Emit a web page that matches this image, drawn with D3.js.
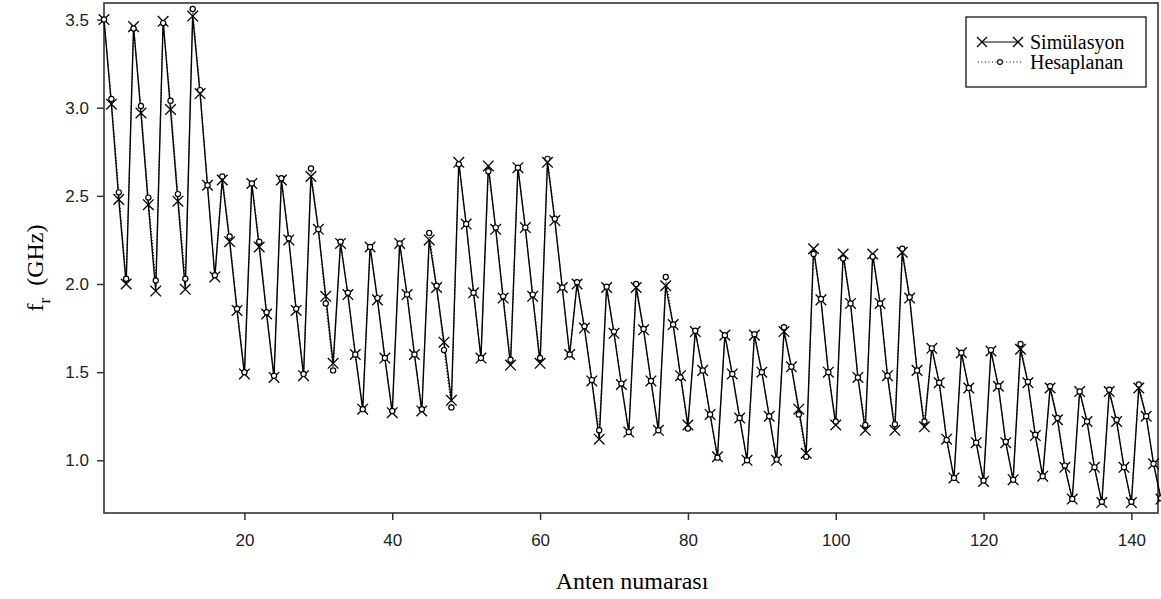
<!DOCTYPE html>
<html>
<head>
<meta charset="utf-8">
<script src="https://cdn.jsdelivr.net/npm/d3@7"></script>
<style>
html,body{margin:0;padding:0;background:#fff;}
svg{display:block;}
</style>
</head>
<body>
<svg id="chart" width="1161" height="599"></svg>
<script>
// ---- data ----
const antennaIndex = d3.range(1, 145);
const simulasyon = [
  3.50,3.02,2.48,2.00, 3.46,2.97,2.45,1.96, 3.49,2.99,2.47,1.97, 3.52,3.08,2.56,2.04,
  2.59,2.24,1.85,1.49, 2.57,2.21,1.83,1.47, 2.59,2.25,1.85,1.48, 2.61,2.31,1.93,1.55,
  2.23,1.94,1.60,1.29, 2.21,1.91,1.58,1.27, 2.23,1.94,1.60,1.28, 2.25,1.98,1.67,1.34,
  2.69,2.34,1.95,1.58, 2.67,2.31,1.92,1.54, 2.66,2.32,1.93,1.55, 2.69,2.36,1.98,1.60,
  2.00,1.75,1.45,1.12, 1.98,1.72,1.43,1.16, 1.98,1.74,1.45,1.17, 1.99,1.77,1.48,1.20,
  1.73,1.51,1.26,1.02, 1.71,1.49,1.24,1.00, 1.71,1.50,1.25,1.00, 1.73,1.53,1.29,1.04,
  2.20,1.91,1.50,1.20, 2.17,1.89,1.47,1.17, 2.17,1.89,1.48,1.17, 2.18,1.92,1.51,1.19,
  1.635,1.44,1.12,0.90, 1.61,1.41,1.10,0.88, 1.62,1.42,1.10,0.89, 1.63,1.44,1.14,0.91,
  1.41,1.23,0.96,0.78, 1.39,1.22,0.96,0.76, 1.39,1.22,0.96,0.76, 1.41,1.25,0.98,0.78
];
const hesaplanan = [
  3.50,3.05,2.52,2.03, 3.45,3.01,2.49,2.02, 3.48,3.04,2.51,2.03, 3.56,3.10,2.56,2.05,
  2.61,2.27,1.86,1.50, 2.57,2.24,1.84,1.48, 2.60,2.26,1.86,1.49, 2.655,2.31,1.89,1.51,
  2.24,1.95,1.60,1.29, 2.21,1.92,1.58,1.28, 2.23,1.94,1.60,1.29, 2.29,1.99,1.625,1.30,
  2.68,2.34,1.95,1.58, 2.64,2.32,1.93,1.57, 2.66,2.32,1.94,1.58, 2.71,2.37,1.98,1.60,
  2.01,1.76,1.455,1.17, 1.985,1.73,1.435,1.16, 2.00,1.745,1.45,1.17, 2.04,1.77,1.47,1.18,
  1.735,1.51,1.26,1.015, 1.71,1.49,1.24,1.00, 1.715,1.50,1.25,1.005, 1.755,1.53,1.26,1.02,
  2.17,1.915,1.50,1.22, 2.145,1.89,1.47,1.20, 2.155,1.89,1.48,1.205, 2.20,1.925,1.51,1.22,
  1.635,1.44,1.115,0.90, 1.61,1.41,1.10,0.885, 1.625,1.42,1.105,0.89, 1.66,1.445,1.145,0.91,
  1.42,1.24,0.97,0.78, 1.39,1.22,0.96,0.765, 1.40,1.23,0.96,0.765, 1.43,1.25,0.98,0.785
];
const xTicks = [20, 40, 60, 80, 100, 120, 140];
const yTicks = [1.0, 1.5, 2.0, 2.5, 3.0, 3.5];
const seriesNames = ["Simülasyon", "Hesaplanan"];
const xTitle = "Anten numarası";

// ---- layout ----
const L = 104, R = 1158, T = 3, B = 513;
const svg = d3.select("#chart");
const x = d3.scaleLinear().domain([1, 143.6]).range([L, R]);
const y = d3.scaleLinear().domain([0.701, 3.594]).range([B, T]);

const simData = antennaIndex.map((d, i) => ({x: d, y: simulasyon[i]}));
const hesData = antennaIndex.map((d, i) => ({x: d, y: hesaplanan[i]}));

// axes
const xAxis = svg.append("g").attr("transform", `translate(0,${B})`)
  .call(d3.axisBottom(x).tickValues(xTicks).tickSize(7).tickPadding(14).tickFormat(d3.format("d")));
const yAxis = svg.append("g").attr("transform", `translate(${L},0)`)
  .call(d3.axisLeft(y).tickValues(yTicks).tickSize(7).tickPadding(8).tickFormat(d3.format(".1f")));
[xAxis, yAxis].forEach(g => {
  g.select(".domain").remove();
  g.selectAll(".tick line").attr("stroke", "#333").attr("stroke-width", 1.5);
  g.selectAll(".tick text").attr("font-family", "'Liberation Sans', Arial, sans-serif")
    .attr("font-size", 17).attr("fill", "#222");
});

// frame
svg.append("rect").attr("x", L).attr("y", T).attr("width", R - L).attr("height", B - T)
  .attr("fill", "none").attr("stroke", "#333").attr("stroke-width", 1.6);

const line = d3.line().x(d => x(d.x)).y(d => y(d.y));

// lines
svg.append("path").datum(hesData).attr("d", line)
  .attr("fill", "none").attr("stroke", "#000").attr("stroke-width", 1).attr("stroke-dasharray", "1,2");
svg.append("path").datum(simData).attr("d", line)
  .attr("fill", "none").attr("stroke", "#000").attr("stroke-width", 1.4);

// X markers
const xs = 5.3;
function drawX(g, cx, cy, s) {
  g.append("path").attr("d", `M${cx - s},${cy - s}L${cx + s},${cy + s}M${cx - s},${cy + s}L${cx + s},${cy - s}`)
    .attr("stroke", "#000").attr("stroke-width", 1.3).attr("fill", "none");
}
svg.append("g").selectAll("path").data(simData).join("path")
  .attr("d", d => { const cx = x(d.x), cy = y(d.y); return `M${cx - xs},${cy - xs}L${cx + xs},${cy + xs}M${cx - xs},${cy + xs}L${cx + xs},${cy - xs}`; })
  .attr("stroke", "#000").attr("stroke-width", 1.3).attr("fill", "none");

// circle markers
svg.append("g").selectAll("circle").data(hesData).join("circle")
  .attr("cx", d => x(d.x)).attr("cy", d => y(d.y)).attr("r", 2.6)
  .attr("fill", "#fff").attr("stroke", "#000").attr("stroke-width", 1.2);

// legend
const lg = svg.append("g");
lg.append("rect").attr("x", 966).attr("y", 17).attr("width", 180).attr("height", 70)
  .attr("fill", "#fff").attr("stroke", "#000").attr("stroke-width", 1.2);
lg.append("line").attr("x1", 982).attr("x2", 1018).attr("y1", 42).attr("y2", 42)
  .attr("stroke", "#000").attr("stroke-width", 1.2);
drawX(lg, 982, 42, 5);
drawX(lg, 1018, 42, 5);
lg.append("line").attr("x1", 978).attr("x2", 1022).attr("y1", 62).attr("y2", 62)
  .attr("stroke", "#000").attr("stroke-width", 1).attr("stroke-dasharray", "1,2.5");
lg.append("circle").attr("cx", 1000).attr("cy", 62).attr("r", 2.4)
  .attr("fill", "#fff").attr("stroke", "#000").attr("stroke-width", 1.1);
lg.selectAll("text").data(seriesNames).join("text")
  .attr("x", 1030).attr("y", (d, i) => 42 + i * 20).attr("dy", "0.35em")
  .attr("font-family", "'Liberation Serif', 'Times New Roman', serif").attr("font-size", 20)
  .attr("fill", "#000").text(d => d);

// axis titles
svg.append("text").attr("x", 632).attr("y", 589)
  .attr("text-anchor", "middle")
  .attr("font-family", "'Liberation Serif', 'Times New Roman', serif").attr("font-size", 24)
  .attr("fill", "#000").text(xTitle);

const yt = svg.append("text").attr("transform", "translate(43,268) rotate(-90)")
  .attr("text-anchor", "middle")
  .attr("font-family", "'Liberation Serif', 'Times New Roman', serif").attr("font-size", 24)
  .attr("fill", "#000");
yt.append("tspan").text("f");
yt.append("tspan").attr("font-size", 17).attr("dy", 7).text("r");
yt.append("tspan").attr("dy", -7).text("\u00a0 (GHz)");
</script>
</body>
</html>
